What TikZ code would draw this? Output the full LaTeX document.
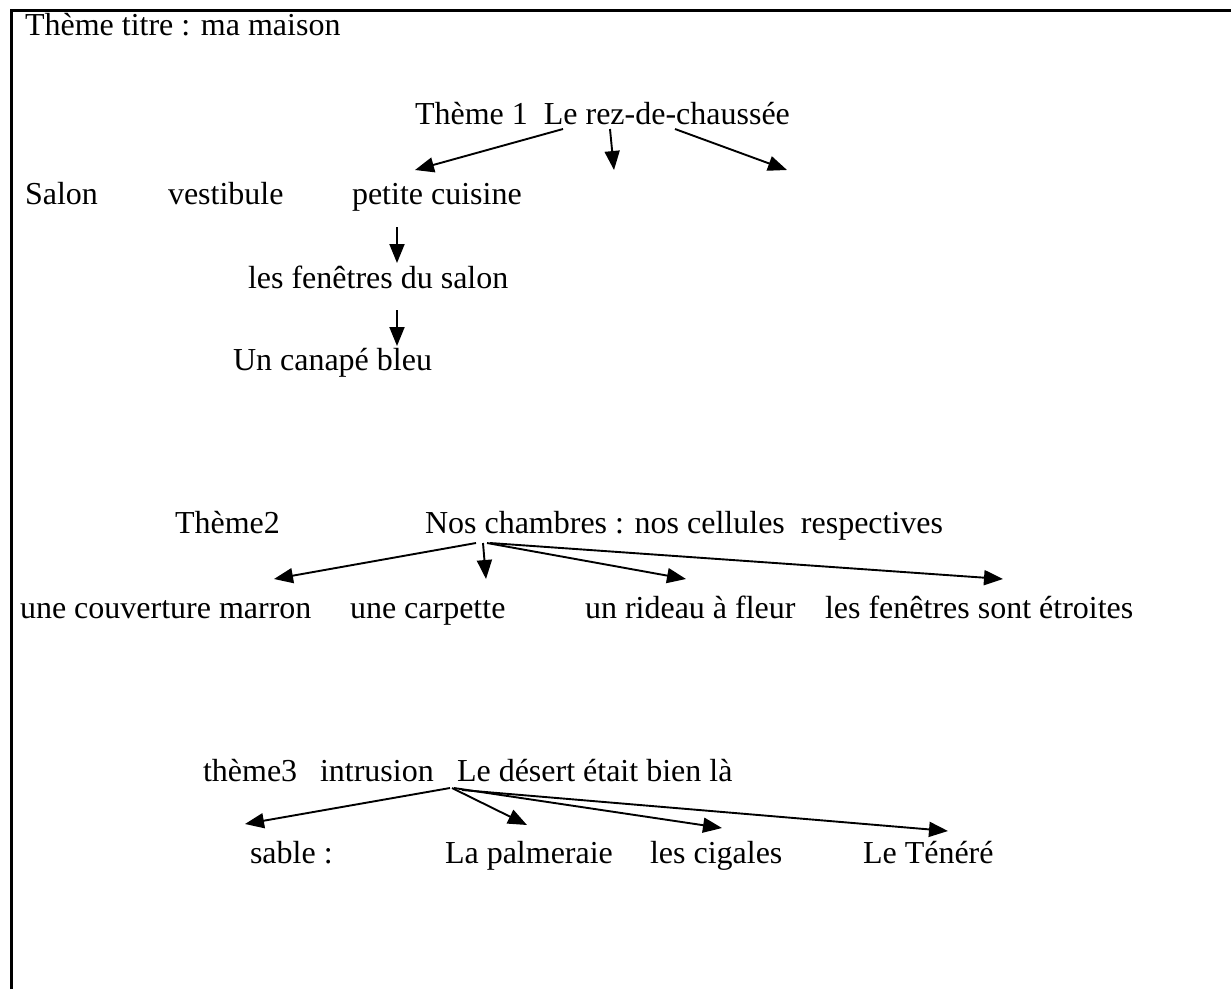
\documentclass[tikz,border=0pt]{standalone}
\usepackage{fontspec}
\setmainfont{Liberation Serif}
\newfontfamily\tnr{Liberation Serif}
\usetikzlibrary{arrows.meta}
\begin{document}
\begin{tikzpicture}[x=1pt,y=-1pt,
  txt/.style={anchor=base west,inner sep=0pt,outer sep=0pt,font=\tnr\fontsize{32}{38}\selectfont},
  arr/.style={line width=1.9pt,-{Triangle[length=19pt,width=15pt]}}]
\useasboundingbox (0,0) rectangle (1231,989);
\draw[line width=3pt] (11,989) -- (11,10) -- (1231,10);
% texts
\node[txt] (title) at (25,35) {Thème titre : ma maison};
\node[txt] (t1) at (415,124) {Thème 1~~Le rez-de-chaussée};
\node[txt] (salon) at (25,204) {Salon};
\node[txt] (vest) at (168,204) {vestibule};
\node[txt] (cuis) at (352,204) {petite cuisine};
\node[txt] (fen) at (248,288) {les fenêtres du salon};
\node[txt] (can) at (233,370) {Un canapé bleu};
\node[txt] (t2) at (175,533) {Thème2};
\node[txt] (ch) at (425,533) {Nos chambres : nos cellules~~respectives};
\node[txt] (couv) at (20,618) {une couverture marron};
\node[txt] (carp) at (350,618) {une carpette};
\node[txt] (rid) at (585,618) {un rideau à fleur};
\node[txt] (etr) at (825,618) {les fenêtres sont étroites};
\node[txt] (t3) at (203,781) {thème3};
\node[txt] (intr) at (320,781) {intrusion};
\node[txt] (des) at (457,781) {Le désert était bien là};
\node[txt] (sab) at (250,863) {sable :};
\node[txt] (palm) at (445,863) {La palmeraie};
\node[txt] (cig) at (650,863) {les cigales};
\node[txt] (ten) at (863,863) {Le Ténéré};
% connector endpoints
\coordinate (a1s) at (563,129); \coordinate (a1e) at (415,170);
\coordinate (a2s) at (610,129); \coordinate (a2e) at (614,170);
\coordinate (a3s) at (675,129); \coordinate (a3e) at (787,170);
\coordinate (b1s) at (397,227); \coordinate (b1e) at (397,263);
\coordinate (b2s) at (397,310); \coordinate (b2e) at (397,346);
\coordinate (c1s) at (476,543); \coordinate (c1e) at (274,579);
\coordinate (c2s) at (483,543); \coordinate (c2e) at (486,579);
\coordinate (c3s) at (487,543); \coordinate (c3e) at (686,579);
\coordinate (c4s) at (490,543); \coordinate (c4e) at (1003,579);
\coordinate (d1s) at (450,788); \coordinate (d1e) at (245,824);
\coordinate (d2s) at (452,788); \coordinate (d2e) at (527,825);
\coordinate (d3s) at (454,788); \coordinate (d3e) at (722,828);
\coordinate (d4s) at (462,790); \coordinate (d4e) at (948,831);
\draw[arr] (a1s) -- (a1e);
\draw[arr] (a2s) -- (a2e);
\draw[arr] (a3s) -- (a3e);
\draw[arr] (b1s) -- (b1e);
\draw[arr] (b2s) -- (b2e);
\draw[arr] (c1s) -- (c1e);
\draw[arr] (c2s) -- (c2e);
\draw[arr] (c3s) -- (c3e);
\draw[arr] (c4s) -- (c4e);
\draw[arr] (d1s) -- (d1e);
\draw[arr] (d2s) -- (d2e);
\draw[arr] (d3s) -- (d3e);
\draw[arr] (d4s) -- (d4e);
\end{tikzpicture}
\end{document}
